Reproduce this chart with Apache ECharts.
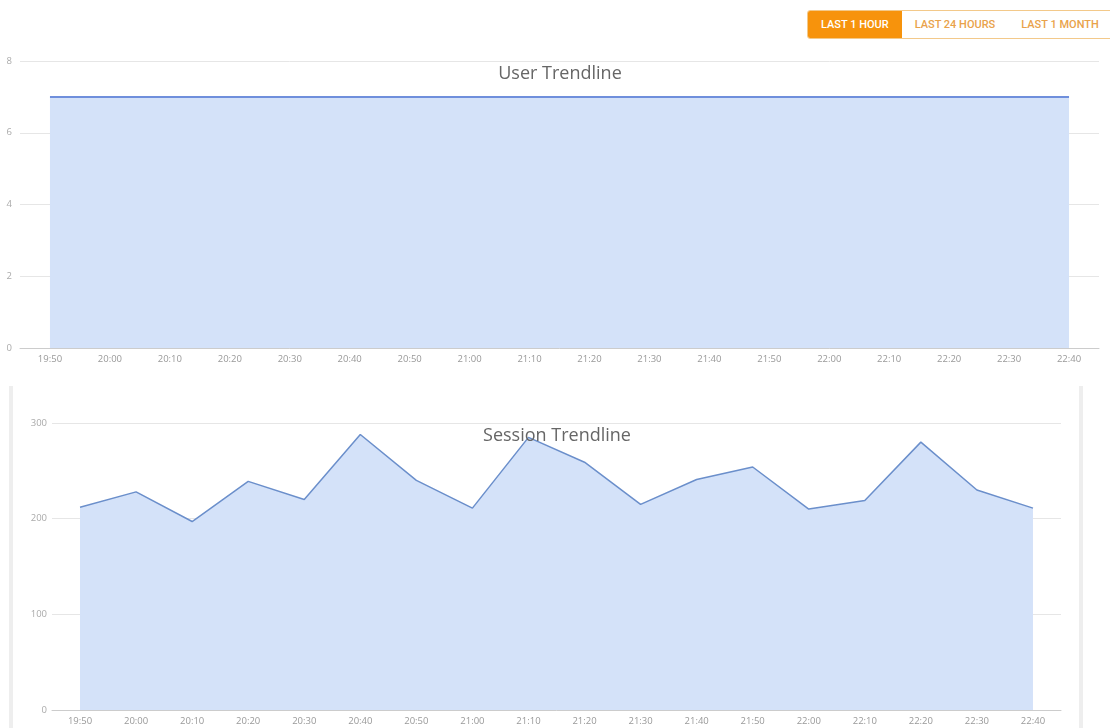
<!DOCTYPE html>
<html>
<head>
<meta charset="utf-8">
<script src="https://cdn.jsdelivr.net/npm/echarts@6/dist/echarts.min.js"></script>
<style>
  html, body { margin: 0; padding: 0; background: #fff; font-family: Roboto, "Noto Sans", sans-serif; overflow: hidden; }
  #chart { position: absolute; left: 0; top: 0; width: 1110px; height: 728px; }
  .btns { position: absolute; left: 807px; top: 10px; height: 27px; display: flex; border: 1px solid #f3c98a; border-radius: 3px; overflow: hidden; }
  .btns div { font-size: 11px; font-weight: 500; line-height: 27px; padding: 0 13px; color: #e9a24a; background: #fff; white-space: nowrap; }
  .btns div.on { background: #f7930c; color: #fff; }
  .bar { position: absolute; top: 386px; width: 4px; height: 342px; background: #eeeeee; }
</style>
</head>
<body>
<div id="chart"></div>
<div class="btns"><div class="on">LAST 1 HOUR</div><div>LAST 24 HOURS</div><div>LAST 1 MONTH</div></div>
<div class="bar" style="left:9px"></div>
<div class="bar" style="left:1079px"></div>
<script>
const times = ['19:50','20:00','20:10','20:20','20:30','20:40','20:50','21:00','21:10','21:20','21:30','21:40','21:50','22:00','22:10','22:20','22:30','22:40'];
const users = [7,7,7,7,7,7,7,7,7,7,7,7,7,7,7,7,7,7];
const sessions = [212,228,197,239,220,288,240,211,285,259,215,241,254,210,219,280,230,211];

const myChart = echarts.init(document.getElementById('chart'));

const xAxisBase = {
    type: 'category',
    data: times,
    boundaryGap: true,
    axisLine: { lineStyle: { color: '#ccc' } },
    axisTick: { alignWithLabel: true, length: 4, lineStyle: { color: '#ccc' } },
    axisLabel: { color: '#999', fontSize: 9.5, margin: 6, fontFamily: 'Open Sans' }
};
const yAxisBase = {
    type: 'value',
    axisLine: { show: false },
    axisTick: { show: false },
    splitLine: { lineStyle: { color: '#e6e6e6' } },
    axisLabel: { color: '#aaa', fontSize: 9.5, fontFamily: 'Open Sans' }
};

myChart.setOption({
    animation: false,
    title: [
        { text: 'User Trendline', left: 555, top: 60, textAlign: 'center',
          textStyle: { fontSize: 18, fontWeight: 'normal', color: '#666', fontFamily: 'Open Sans' } },
        { text: 'Session Trendline', left: 552, top: 422, textAlign: 'center',
          textStyle: { fontSize: 18, fontWeight: 'normal', color: '#666', fontFamily: 'Open Sans' } }
    ],
    grid: [
        { left: 20, right: 11, top: 61, height: 287 },
        { left: 52, right: 49, top: 423, height: 287 }
    ],
    xAxis: [
        Object.assign({ gridIndex: 0 }, xAxisBase),
        Object.assign({ gridIndex: 1 }, xAxisBase)
    ],
    yAxis: [
        Object.assign({ gridIndex: 0, min: 0, max: 8, interval: 2 }, yAxisBase, { axisLabel: Object.assign({}, yAxisBase.axisLabel, { margin: 8 }) }),
        Object.assign({ gridIndex: 1, min: 0, max: 300, interval: 100 }, yAxisBase, { axisLabel: Object.assign({}, yAxisBase.axisLabel, { margin: 5 }) })
    ],
    series: [
        {
            type: 'line', xAxisIndex: 0, yAxisIndex: 0, data: users,
            symbol: 'none', lineStyle: { color: '#6f8fdc', width: 2 },
            areaStyle: { color: '#d4e2f9', opacity: 1 }
        },
        {
            type: 'line', xAxisIndex: 1, yAxisIndex: 1, data: sessions,
            symbol: 'none', lineStyle: { color: '#6b8fcb', width: 1.5 },
            areaStyle: { color: '#d4e2f9', opacity: 1 }
        }
    ]
});
</script>
</body>
</html>
